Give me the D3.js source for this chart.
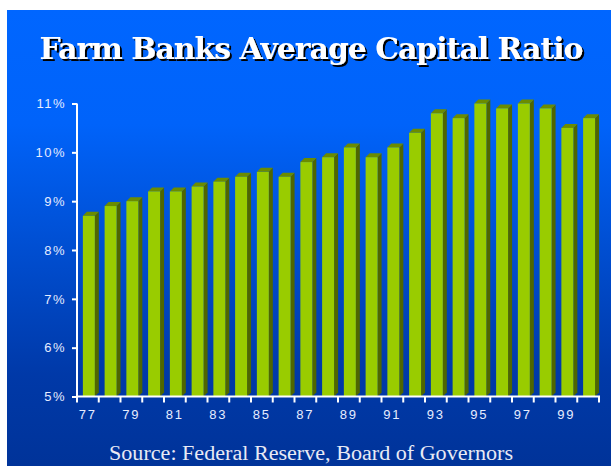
<!DOCTYPE html>
<html>
<head>
<meta charset="utf-8">
<script src="https://cdn.jsdelivr.net/npm/d3@7"></script>
<style>
  html, body { margin: 0; padding: 0; background: #fff; }
  svg { display: block; }
</style>
</head>
<body>
<svg id="chart"></svg>
<script>
(function () {

    // Data
    const years = ["77", "78", "79", "80", "81", "82", "83", "84", "85", "86", "87", "88",
                   "89", "90", "91", "92", "93", "94", "95", "96", "97", "98", "99", "00"];
    const ratios = [8.7, 8.9, 9.0, 9.2, 9.2, 9.3, 9.4, 9.5, 9.6, 9.5, 9.8, 9.9,
                    10.1, 9.9, 10.1, 10.4, 10.8, 10.7, 11.0, 10.9, 11.0, 10.9, 10.5, 10.7];
    const yTicks = [5, 6, 7, 8, 9, 10, 11];
    const xLabels = ["77", "79", "81", "83", "85", "87", "89", "91", "93", "95", "97", "99"];

    const title = "Farm Banks Average Capital Ratio";
    const source = "Source: Federal Reserve, Board of Governors";

    // Size
    const width = 611, height = 466;

    const svg = d3.select("#chart")
        .attr("width", width)
        .attr("height", height);

    const defs = svg.append("defs");

    // Blue gradient background
    const grad = defs.append("linearGradient")
        .attr("id", "bg")
        .attr("x1", 0).attr("y1", 0)
        .attr("x2", 0).attr("y2", 1);
    grad.append("stop").attr("offset", "0%").attr("stop-color", "#0066ff");
    grad.append("stop").attr("offset", "25%").attr("stop-color", "#0063fa");
    grad.append("stop").attr("offset", "80%").attr("stop-color", "#0039a8");
    grad.append("stop").attr("offset", "100%").attr("stop-color", "#003399");

    // Title drop shadow
    const shadow = defs.append("filter")
        .attr("id", "shadow")
        .attr("x", "-5%").attr("y", "-20%")
        .attr("width", "110%").attr("height", "140%");
    shadow.append("feFlood").attr("flood-color", "#000").attr("result", "black");
    shadow.append("feComposite").attr("in", "black").attr("in2", "SourceAlpha")
        .attr("operator", "in").attr("result", "mask");
    shadow.append("feOffset").attr("in", "mask").attr("dx", 2).attr("dy", 2).attr("result", "off");
    const merge = shadow.append("feMerge");
    merge.append("feMergeNode").attr("in", "off");
    merge.append("feMergeNode").attr("in", "SourceGraphic");

    svg.append("rect")
        .attr("x", 7).attr("y", 10)
        .attr("width", width - 7).attr("height", height - 10)
        .attr("fill", "url(#bg)");

    // Title
    svg.append("text")
        .attr("x", 311).attr("y", 59)
        .attr("text-anchor", "middle")
        .attr("textLength", 543)
        .attr("lengthAdjust", "spacingAndGlyphs")
        .attr("fill", "#fff")
        .attr("filter", "url(#shadow)")
        .style("font-family", "'DejaVu Serif', serif")
        .style("font-weight", "bold")
        .style("font-size", "30px")
        .style("letter-spacing", "-1px")
        .text(title);

    // Scales
    const x = d3.scaleBand()
        .domain(years)
        .range([77, 599]);

    const y = d3.scaleLinear()
        .domain([5, 11])
        .range([396.5, 103.5]);

    const bw = x.bandwidth();
    const frontOff = bw * 0.27, frontW = bw * 0.55;
    const depth = 4;

    // Bars (pseudo 3D)
    const bars = svg.append("g").selectAll("g")
        .data(ratios)
        .enter().append("g");

    bars.append("polygon")
        .attr("fill", "#4f6600")
        .attr("points", (d, i) => {
            const x0 = x(years[i]) + frontOff + frontW;
            const yt = y(d), yb = y(5);
            return [[x0, yt], [x0 + depth, yt - depth], [x0 + depth, yb - depth], [x0, yb]].join(" ");
        });

    bars.append("polygon")
        .attr("fill", "#6b8c00")
        .attr("points", (d, i) => {
            const x0 = x(years[i]) + frontOff;
            const yt = y(d);
            return [[x0, yt], [x0 + depth, yt - depth], [x0 + frontW + depth, yt - depth], [x0 + frontW, yt]].join(" ");
        });

    bars.append("rect")
        .attr("fill", "#99cc00")
        .attr("x", (d, i) => x(years[i]) + frontOff)
        .attr("y", d => y(d))
        .attr("width", frontW)
        .attr("height", d => y(5) - y(d));

    // Y axis
    const yAxis = svg.append("g")
        .attr("transform", "translate(77,0)")
        .call(d3.axisLeft(y).tickValues(yTicks).tickSize(5).tickPadding(6)
            .tickFormat(d => d + "%"));
    yAxis.select(".domain").attr("stroke", "#fff").attr("stroke-width", 2)
        .attr("d", "M0," + y(11) + "V" + y(5));
    yAxis.selectAll(".tick line").attr("stroke", "#fff").attr("stroke-width", 2);
    yAxis.selectAll(".tick text")
        .attr("fill", "#e6ecff")
        .style("font-family", "'Liberation Sans', Arial, sans-serif")
        .style("font-size", "13px")
        .style("letter-spacing", "1.5px");

    // X axis: ticks at band boundaries
    const xAxisG = svg.append("g");
    xAxisG.append("line")
        .attr("x1", 76).attr("x2", 600)
        .attr("y1", y(5)).attr("y2", y(5))
        .attr("stroke", "#fff").attr("stroke-width", 2);
    xAxisG.selectAll(".xt")
        .data(years.concat(["end"]))
        .enter().append("line")
        .attr("x1", (d, i) => 77 + i * bw)
        .attr("x2", (d, i) => 77 + i * bw)
        .attr("y1", y(5))
        .attr("y2", y(5) + 6)
        .attr("stroke", "#fff").attr("stroke-width", 2);
    xAxisG.selectAll(".xl")
        .data(xLabels)
        .enter().append("text")
        .attr("x", d => x(d) + bw / 2)
        .attr("y", 419)
        .attr("text-anchor", "middle")
        .attr("fill", "#e6ecff")
        .style("font-family", "'Liberation Sans', Arial, sans-serif")
        .style("font-size", "13px")
        .style("letter-spacing", "2px")
        .text(d => d);

    // Source
    svg.append("text")
        .attr("x", 311).attr("y", 460)
        .attr("text-anchor", "middle")
        .attr("textLength", 404)
        .attr("lengthAdjust", "spacingAndGlyphs")
        .attr("fill", "#e8eaf5")
        .style("font-family", "'Liberation Serif', 'Times New Roman', serif")
        .style("font-size", "20px")
        .text(source);
})();
</script>
</body>
</html>
